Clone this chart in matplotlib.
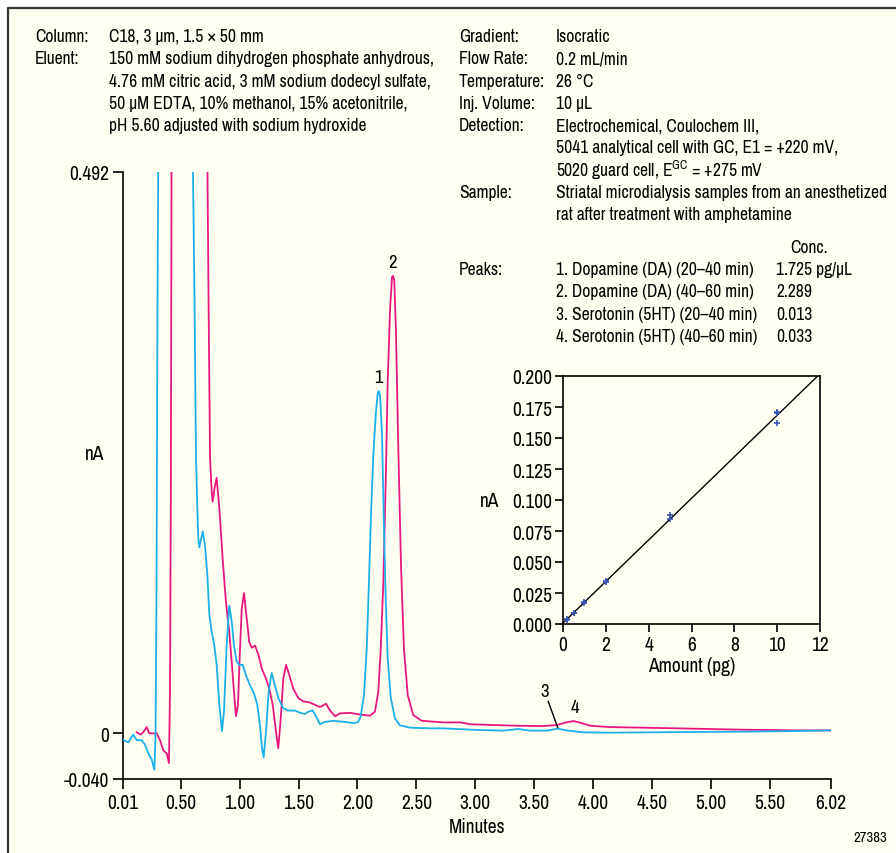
import numpy as np
import matplotlib
matplotlib.use("Agg")
import matplotlib.pyplot as plt
from matplotlib.patches import Rectangle
from matplotlib.lines import Line2D

plt.rcParams['font.family'] = ['Archivo Narrow', 'Liberation Sans', 'DejaVu Sans']
plt.rcParams['mathtext.fontset'] = 'custom'
plt.rcParams['mathtext.rm'] = 'Archivo Narrow'

# chromatogram, 20-40 min sample (blue)
blue_t = [0.018, 0.055, 0.097, 0.126, 0.169, 0.197, 0.225, 0.254, 0.276, 0.286, 0.294, 0.303, 0.309,
          0.315, 0.600,
          0.604, 0.617, 0.625, 0.630, 0.641, 0.649, 0.658, 0.687, 0.706, 0.726, 0.743, 0.763, 0.785,
          0.805, 0.828, 0.850, 0.867, 0.890, 0.912, 0.933, 0.952, 0.975, 0.997, 1.026, 1.054, 1.088,
          1.122, 1.150, 1.173, 1.190, 1.204, 1.224, 1.247, 1.272, 1.300, 1.328, 1.371, 1.413, 1.470,
          1.513, 1.555, 1.583, 1.620, 1.648, 1.682, 1.725, 1.795, 1.895, 1.965, 2.007, 2.028, 2.056,
          2.079, 2.098, 2.115, 2.135, 2.155, 2.172, 2.181, 2.192, 2.209, 2.223, 2.240, 2.257, 2.283,
          2.319, 2.361, 2.446, 2.616, 2.729, 3.013, 3.238, 3.366, 3.465, 3.607, 3.697, 3.776, 3.917,
          4.144, 4.710, 5.276, 5.700, 6.018]
blue_nA = [-0.006, -0.008, -0.001, -0.006, -0.006, -0.010, -0.0175, -0.023, -0.032, -0.004, 0.118, 0.381, 0.492,
           0.56, 0.56,
           0.492, 0.381, 0.293, 0.241, 0.197, 0.171, 0.163, 0.177, 0.165, 0.139, 0.104, 0.089, 0.077,
           0.060, 0.025, 0.002, 0.019, 0.077, 0.112, 0.098, 0.077, 0.063, 0.060, 0.060, 0.051, 0.042,
           0.035, 0.025, 0.007, -0.013, -0.021, 0.0015, 0.037, 0.053, 0.042, 0.031, 0.022, 0.020, 0.020,
           0.018, 0.017, 0.019, 0.020, 0.015, 0.008, 0.010, 0.011, 0.010, 0.009, 0.010, 0.015, 0.034,
           0.074, 0.133, 0.191, 0.244, 0.279, 0.298, 0.300, 0.296, 0.261, 0.191, 0.118, 0.066, 0.031,
           0.013, 0.007, 0.005, 0.0044, 0.0044, 0.003, 0.0024, 0.0038, 0.0024, 0.0024, 0.0041, 0.0026, 0.0009,
           0.0006, 0.0011, 0.0015, 0.002, 0.0026]

# chromatogram, 40-60 min sample (magenta)
mag_t = [0.126, 0.160, 0.182, 0.211, 0.233, 0.296, 0.324, 0.352, 0.381, 0.400, 0.409, 0.416, 0.422,
         0.428, 0.722,
         0.727, 0.740, 0.749, 0.763, 0.771, 0.787, 0.805, 0.828, 0.856, 0.884, 0.912, 0.935, 0.952,
         0.969, 0.986, 1.000, 1.018, 1.037, 1.060, 1.082, 1.103, 1.131, 1.159, 1.187, 1.224, 1.252,
         1.281, 1.309, 1.328, 1.349, 1.371, 1.394, 1.422, 1.456, 1.498, 1.541, 1.597, 1.640, 1.682,
         1.733, 1.767, 1.810, 1.852, 1.937, 2.022, 2.107, 2.149, 2.177, 2.198, 2.220, 2.240, 2.257,
         2.277, 2.294, 2.302, 2.313, 2.327, 2.347, 2.370, 2.395, 2.427, 2.474, 2.546, 2.729, 2.871,
         2.956, 3.153, 3.352, 3.578, 3.692, 3.762, 3.833, 3.890, 3.974, 4.144, 4.427, 4.710, 4.993,
         5.276, 5.559, 5.700, 6.018]
mag_nA = [0.001, -0.001, 0.001, 0.0055, 0.000, 0.000, -0.006, -0.015, -0.0175, -0.026, 0.037, 0.206, 0.492,
          0.56, 0.56,
          0.492, 0.337, 0.241, 0.212, 0.203, 0.215, 0.224, 0.197, 0.153, 0.115, 0.089, 0.060, 0.0365,
          0.015, 0.025, 0.066, 0.109, 0.123, 0.101, 0.080, 0.075, 0.077, 0.069, 0.057, 0.048, 0.039,
          0.025, 0.0015, -0.013, 0.013, 0.048, 0.060, 0.051, 0.039, 0.031, 0.028, 0.027, 0.025, 0.023,
          0.026, 0.020, 0.015, 0.0175, 0.018, 0.0165, 0.0155, 0.019, 0.0365, 0.074, 0.133, 0.220, 0.308,
          0.372, 0.400, 0.401, 0.397, 0.352, 0.250, 0.147, 0.074, 0.0335, 0.016, 0.011, 0.0096, 0.0096,
          0.008, 0.0073, 0.0067, 0.0064, 0.0073, 0.0094, 0.0108, 0.0094, 0.0067, 0.0055, 0.005, 0.0044, 0.0038,
          0.0032, 0.0029, 0.0026, 0.0026]

x_ticks = [0.01, 0.50, 1.00, 1.50, 2.00, 2.50, 3.00, 3.50, 4.00, 4.50, 5.00, 5.50, 6.02]
y_ticks = [-0.040, 0, 0.492]
y_tick_labels = ["-0.040", "0", "0.492"]

peak_labels = ["1", "2", "3", "4"]
peak_pos = [(2.181, 0.305), (2.302, 0.406), (3.59, 0.030), (3.843, 0.016)]

# calibration inset
cal_pg = [0.2, 0.2, 0.5, 0.5, 1, 1, 2, 2, 5, 5, 10, 10, 10]
cal_nA = [0.004, 0.003, 0.009, 0.0085, 0.018, 0.017, 0.035, 0.034, 0.088, 0.085, 0.170, 0.171, 0.162]

left_info = [("Column:", "C18, 3 µm, 1.5 × 50 mm"),
             ("Eluent:", "150 mM sodium dihydrogen phosphate anhydrous,"),
             ("", "4.76 mM citric acid, 3 mM sodium dodecyl sulfate,"),
             ("", "50 µM EDTA, 10% methanol, 15% acetonitrile,"),
             ("", "pH 5.60 adjusted with sodium hydroxide")]
right_info = [("Gradient:", "Isocratic"),
              ("Flow Rate:", "0.2 mL/min"),
              ("Temperature:", "26 °C"),
              ("Inj. Volume:", "10 µL"),
              ("Detection:", "Electrochemical, Coulochem III,"),
              ("", "5041 analytical cell with GC, E1 = +220 mV,"),
              ("", "5020 guard cell, E$^{\\mathrm{GC}}$ = +275 mV"),
              ("Sample:", "Striatal microdialysis samples from an anesthetized"),
              ("", "rat after treatment with amphetamine")]
peak_names = ["1. Dopamine (DA) (20–40 min)", "2. Dopamine (DA) (40–60 min)",
              "3. Serotonin (5HT) (20–40 min)", "4. Serotonin (5HT) (40–60 min)"]
peak_conc = ["1.725 pg/µL", "2.289", "0.013", "0.033"]

W, H = 896, 854
BG = '#fffff2'
BLUE = '#1cb0ea'
MAG = '#e6187f'

fig = plt.figure(figsize=(W / 100, H / 100), dpi=100, facecolor='white')

def px(x, y):
    return x / W, 1 - y / H

# cream panel, dark rule on top and left only
fig.patches.append(Rectangle(px(8, 870), 1.2, (870 - 9) / H, transform=fig.transFigure,
                             facecolor=BG, edgecolor='none', zorder=-5))
x0, y0 = px(8, 9)
fig.lines.append(Line2D([x0, x0, 1.01], [-0.01, y0, y0], transform=fig.transFigure,
                        color='#333333', lw=1.6))

fs = 12.6
for i, (lab, val) in enumerate(left_info):
    y = 37 + i * 22.3
    fig.text(*px(35, y), lab, fontsize=fs, va='center')
    fig.text(*px(109, y), val, fontsize=fs, va='center')
for i, (lab, val) in enumerate(right_info):
    y = 37 + i * 22.3
    fig.text(*px(459, y), lab, fontsize=fs, va='center')
    fig.text(*px(556, y), val, fontsize=fs, va='center')
fig.text(*px(790, 248), "Conc.", fontsize=fs, va='center')
fig.text(*px(459, 270), "Peaks:", fontsize=fs, va='center')
for i, (nm, c) in enumerate(zip(peak_names, peak_conc)):
    y = 270 + i * 22.3
    fig.text(*px(556, y), nm, fontsize=fs, va='center')
    fig.text(*px(776, y), c, fontsize=fs, va='center')

# main chromatogram
ax = fig.add_axes([123 / W, 1 - 780 / H, (831 - 123) / W, (780 - 173) / H])
ax.set_facecolor('none')
ax.plot(blue_t, blue_nA, color=BLUE, lw=1.3, zorder=3)
ax.plot(mag_t, mag_nA, color=MAG, lw=1.3, zorder=2)
ax.set_xlim(0.01, 6.02)
ax.set_ylim(-0.040, 0.492)
ax.set_xticks(x_ticks)
ax.set_xticklabels(["%.2f" % t for t in x_ticks])
ax.set_yticks(y_ticks)
ax.set_yticklabels(y_tick_labels)
for s in ['top', 'right']:
    ax.spines[s].set_visible(False)
for s in ['left', 'bottom']:
    ax.spines[s].set_linewidth(1.2)
ax.tick_params(direction='out', length=7, width=1.2, labelsize=14, pad=3)
ax.set_xlabel("Minutes", fontsize=14, labelpad=4)
fig.text(*px(95, 455), "nA", fontsize=14, va='center', ha='center')

for lab, (t, v) in zip(peak_labels, peak_pos):
    ax.text(t, v, lab, fontsize=13.5, ha='center', va='bottom')
ax.plot([3.62, 3.70], [0.028, 0.005], color='black', lw=1.0)

fig.text(*px(870, 838), "27383", fontsize=10.5, ha='center', va='center')

# calibration inset
ins = fig.add_axes([563 / W, 1 - 625 / H, (820 - 563) / W, (625 - 377) / H])
ins.set_facecolor('none')
slope, icpt = np.polyfit(cal_pg, cal_nA, 1)
xs = np.array([0, 12])
ins.plot(xs, slope * xs + icpt, color='black', lw=1.0)
ins.plot(cal_pg, cal_nA, '+', color='#3a55b4', ms=5, mew=1.2)
ins.set_xlim(0, 12)
ins.set_ylim(0, 0.2)
ins.set_xticks(range(0, 13, 2))
ins.set_yticks(np.arange(0, 0.2001, 0.025))
ins.set_yticklabels(["%.3f" % v for v in np.arange(0, 0.2001, 0.025)])
for s in ins.spines.values():
    s.set_linewidth(1.2)
ins.tick_params(direction='out', length=6, width=1.2, labelsize=14, pad=2)
ins.set_xlabel("Amount (pg)", fontsize=14, labelpad=1)
fig.text(*px(490, 502), "nA", fontsize=14, va='center', ha='center')

fig.savefig("out.png", dpi=100, facecolor='white')
